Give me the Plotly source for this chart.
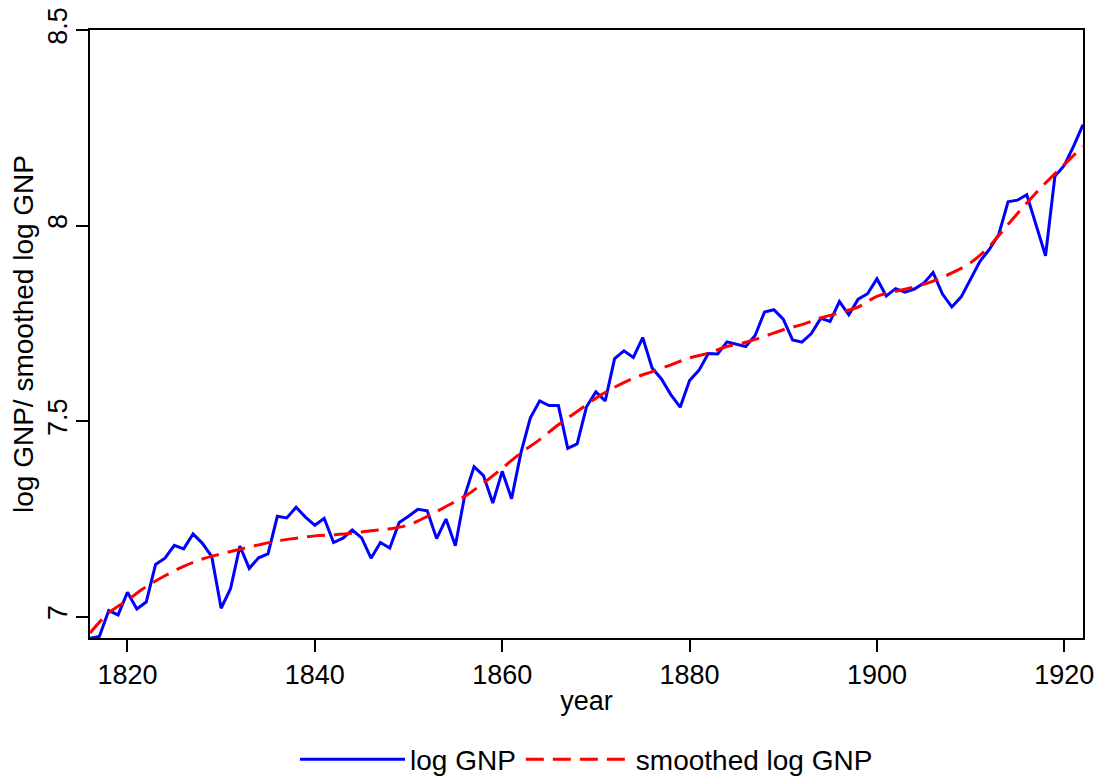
import plotly.graph_objects as go

years = list(range(1816, 1923))
log_gnp = [
    6.945, 6.950, 7.016, 7.005, 7.063, 7.020, 7.038, 7.134, 7.150, 7.183,
    7.174, 7.212, 7.188, 7.154, 7.022, 7.072, 7.181, 7.124, 7.151, 7.161,
    7.257, 7.253, 7.280, 7.255, 7.234, 7.252, 7.190, 7.201, 7.222, 7.202,
    7.150, 7.190, 7.176, 7.241, 7.257, 7.275, 7.271, 7.200, 7.250, 7.182,
    7.310, 7.384, 7.361, 7.291, 7.372, 7.302, 7.419, 7.508, 7.552, 7.540,
    7.540, 7.431, 7.442, 7.537, 7.575, 7.552, 7.660, 7.680, 7.663, 7.714,
    7.636, 7.608, 7.568, 7.536, 7.604, 7.630, 7.673, 7.672, 7.703, 7.697,
    7.691, 7.719, 7.779, 7.785, 7.761, 7.708, 7.702, 7.724, 7.763, 7.755,
    7.806, 7.772, 7.812, 7.826, 7.864, 7.820, 7.839, 7.830, 7.838, 7.853,
    7.880, 7.825, 7.792, 7.818, 7.864, 7.909, 7.939, 7.977, 8.061, 8.065,
    8.079, 8.003, 7.923, 8.126, 8.154, 8.203, 8.258,
]

smooth_years = list(range(1816, 1923, 2))
smooth_gnp = [
    6.959, 7.010, 7.043, 7.077, 7.105, 7.129, 7.148, 7.161, 7.173, 7.184,
    7.194, 7.201, 7.207, 7.210, 7.214, 7.220, 7.225, 7.235, 7.257, 7.282,
    7.308, 7.342, 7.380, 7.419, 7.453, 7.491, 7.525, 7.559, 7.587, 7.610,
    7.627, 7.644, 7.662, 7.674, 7.691, 7.702, 7.717, 7.734, 7.747, 7.764,
    7.777, 7.792, 7.819, 7.832, 7.843, 7.858, 7.879, 7.905, 7.947, 8.003,
    8.058, 8.109, 8.156, 8.203,
]

x_ticks = [1820, 1840, 1860, 1880, 1900, 1920]
y_ticks = [7, 7.5, 8, 8.5]
y_tick_labels = ["7", "7.5", "8", "8.5"]

font_family = "Liberation Sans, Arial, sans-serif"

fig = go.Figure()
fig.add_trace(go.Scatter(
    x=years, y=log_gnp, mode="lines", name="log GNP",
    line=dict(color="#0000ff", width=3),
))
fig.add_trace(go.Scatter(
    x=smooth_years, y=smooth_gnp, mode="lines", name="smoothed log GNP",
    line=dict(color="#ff0000", width=3, dash="18px,9px", shape="spline"),
))

fig.update_layout(
    width=1098, height=770,
    margin=dict(l=82, r=23, t=22, b=140, autoexpand=False),
    paper_bgcolor="white", plot_bgcolor="white",
    font=dict(family=font_family, size=27, color="black"),
    showlegend=True,
    legend=dict(
        orientation="h", x=0.5, xanchor="center", y=-0.20, yanchor="middle",
        font=dict(size=28), itemwidth=105,
    ),
    xaxis=dict(
        range=[1816, 1922], tickmode="array", tickvals=x_ticks,
        ticks="outside", ticklen=12, tickwidth=1.5, tickcolor="black",
        ticklabelstandoff=0, ticklabeloverflow="allow",
        showline=True, linecolor="black", linewidth=1.5, mirror=True,
        showgrid=False, zeroline=False,
        title=dict(text="year", standoff=2, font=dict(size=27)),
    ),
    yaxis=dict(
        range=[6.946, 8.5], tickmode="array", tickvals=y_ticks,
        ticktext=y_tick_labels, tickangle=-90,
        ticks="outside", ticklen=12, tickwidth=1.5, tickcolor="black",
        ticklabelstandoff=-2, ticklabeloverflow="allow",
        showline=True, linecolor="black", linewidth=1.5, mirror=True,
        showgrid=False, zeroline=False,
        title=dict(text="log GNP/ smoothed log GNP", standoff=10, font=dict(size=28)),
    ),
)

fig.write_html("out.html")
